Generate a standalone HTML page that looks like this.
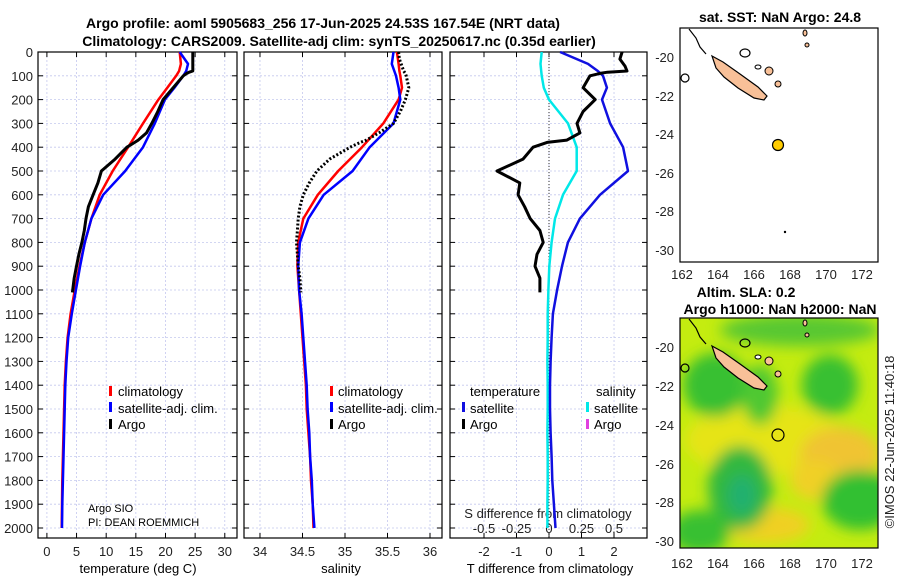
<!DOCTYPE html>
<html><head><meta charset="utf-8">
<style>
html,body{margin:0;padding:0;background:#fff;}
svg{display:block;font-family:"Liberation Sans","DejaVu Sans",sans-serif;}
.tk{font-size:13px;fill:#222;}
.tt{font-size:14px;font-weight:bold;fill:#000;}
.lg{font-size:13px;fill:#000;}
</style></head>
<body>
<svg id="chart" width="900" height="580" viewBox="0 0 900 580" xmlns="http://www.w3.org/2000/svg">
<g id="g"></g>
</svg>
<script>
// ---------- data ----------
const depthTicks=[0,100,200,300,400,500,600,700,800,900,1000,1100,1200,1300,1400,1500,1600,1700,1800,1900,2000];
const tTicks=[0,5,10,15,20,25,30];
const sTicks=[34,34.5,35,35.5,36];
const sTickLabels=["34","34.5","35","35.5","36"];
const dTTicks=[-2,-1,0,1,2];
const dSTicks=[-0.5,-0.25,0,0.25,0.5];
const dSTickLabels=["-0.5","-0.25","0","0.25","0.5"];

const climDepth=[0,50,80,100,150,200,300,400,500,600,700,800,900,1000,1100,1200,1300,1400,1500,1600,1700,1800,1900,2000];
const tClim=[22.4,22.6,22.3,21.8,20.3,18.8,16.2,13.7,11.1,8.9,7.5,6.4,5.5,4.7,4.0,3.5,3.2,3.0,2.9,2.8,2.7,2.6,2.55,2.5];
const tSat=[22.4,23.8,23.5,23.0,21.5,19.9,18.2,16.2,13.2,9.5,7.5,6.4,5.6,4.9,4.2,3.6,3.3,3.1,3.0,2.9,2.8,2.7,2.6,2.55];
const sClim=[35.61,35.63,35.64,35.65,35.67,35.63,35.45,35.2,34.92,34.68,34.51,34.45,34.44,34.46,34.48,34.5,34.52,34.54,34.55,34.57,34.59,34.6,34.62,34.63];
const sSat=[35.57,35.55,35.58,35.6,35.63,35.65,35.57,35.29,35.09,34.75,34.57,34.47,34.45,34.46,34.49,34.51,34.53,34.55,34.56,34.58,34.59,34.61,34.62,34.64];
const dSSat=[-0.056,-0.065,-0.06,-0.056,-0.04,0.0,0.146,0.213,0.213,0.108,0.046,0.02,0.002,-0.005,-0.01,-0.01,-0.012,-0.01,-0.01,-0.012,-0.01,-0.01,-0.012,-0.012];
const dTSat=[0.34,1.2,1.5,1.66,1.78,1.63,1.88,2.28,2.43,1.57,0.95,0.58,0.4,0.25,0.12,0.08,0.05,0.03,0.03,0.05,0.08,0.1,0.15,0.2];

const argoDepth=[0,30,60,80,85,90,100,150,200,250,300,340,370,380,400,450,500,550,600,650,700,750,800,850,900,950,1010];
const tArgo=[24.6,24.6,24.6,24.6,24.0,23.6,23.0,21.3,19.6,18.7,17.7,16.8,15.4,14.8,13.5,11.5,9.2,8.6,7.8,7.0,6.6,6.3,5.9,5.4,5.0,4.6,4.3];
const sArgo=[35.63,35.64,35.67,35.69,35.7,35.71,35.72,35.75,35.71,35.65,35.57,35.4,35.25,35.18,35.06,34.82,34.67,34.58,34.51,34.47,34.45,34.44,34.43,34.44,34.45,34.47,34.48];
const dTArgo=[2.25,2.18,2.34,2.4,1.8,1.57,1.26,1.05,1.42,1.05,0.86,0.95,0.55,-0.06,-0.49,-0.8,-1.6,-0.9,-0.95,-0.75,-0.58,-0.28,-0.18,-0.37,-0.43,-0.28,-0.28];

// ---------- helpers ----------
const NS="http://www.w3.org/2000/svg";
const G=document.getElementById('g');
function mk(tag,attrs,parent){const e=document.createElementNS(NS,tag);for(const k in attrs)e.setAttribute(k,attrs[k]);(parent||G).appendChild(e);return e;}
function txt(x,y,s,cls,anchor,parent){const e=mk('text',{x:x,y:y,'class':cls,'text-anchor':anchor||'middle'},parent);e.textContent=s;return e;}
const yD=d=>52+0.238*d;
const panels=[
 {name:'temperature',x0:38,x1:237,lo:-1.5,hi:32.06},
 {name:'salinity',x0:244,x1:442,lo:33.812,hi:36.141},
 {name:'difference',x0:450,x1:647,lo:-3.046,hi:3.015}
];
function sx(p,v){return p.x0+(v-p.lo)/(p.hi-p.lo)*(p.x1-p.x0);}
const pT=panels[0],pS=panels[1],pD=panels[2];
const xDS=v=>549+130*v;
const PB=538;

function line(p,xs,ys,color,w,dash,name,fx){
  let d='';for(let i=0;i<xs.length;i++){const X=fx?fx(xs[i]):sx(p,xs[i]);d+=(i?'L':'M')+X.toFixed(1)+','+yD(ys[i]).toFixed(1);}
  const e=mk('path',{d:d,fill:'none',stroke:color,'stroke-width':w,'stroke-linejoin':'round'});
  if(dash)e.setAttribute('stroke-dasharray',dash);
  
  
  return e;
}

// ---------- panels: frame, grid, ticks ----------
panels.forEach((p,pi)=>{
  const grp=mk('g',{});
  
  
  depthTicks.forEach(d=>{
    const y=yD(d);
    const gl=mk('line',{x1:p.x0,x2:p.x1,y1:y,y2:y,stroke:'#c4c8ee','stroke-width':0.8,'stroke-dasharray':'2,2'},grp);
    
    
    mk('line',{x1:p.x0,x2:p.x0+5,y1:y,y2:y,stroke:'#000','stroke-width':1},grp);
    mk('line',{x1:p.x1,x2:p.x1-5,y1:y,y2:y,stroke:'#000','stroke-width':1},grp);
    if(pi===0){const t=txt(p.x0-5,y+5,String(d),'tk','end',grp);
      
      }
  });
  let ticks=pi===0?tTicks:pi===1?sTicks:dTTicks;
  let labels=pi===0?tTicks.map(String):pi===1?sTickLabels:dTTicks.map(String);
  ticks.forEach((v,i)=>{
    const x=sx(p,v);
    const gl=mk('line',{x1:x,x2:x,y1:52,y2:PB,stroke:'#c4c8ee','stroke-width':0.8,'stroke-dasharray':'2,2'},grp);
    
    
    mk('line',{x1:x,x2:x,y1:PB,y2:PB-5,stroke:'#000','stroke-width':1},grp);
    mk('line',{x1:x,x2:x,y1:52,y2:57,stroke:'#000','stroke-width':1},grp);
    const t=txt(x,556,labels[i],'tk','middle',grp);
    
    
  });
  const fr=mk('rect',{x:p.x0,y:52,width:p.x1-p.x0,height:PB-52,fill:'none',stroke:'#000','stroke-width':1.2},grp);
  
  
});
dSTicks.forEach((v,i)=>{
  const t=txt(xDS(v),533,dSTickLabels[i],'tk');
  
  
  mk('line',{x1:xDS(v),x2:xDS(v),y1:PB,y2:PB-4,stroke:'#000'});
});
let st=txt(548,518,'S difference from climatology','tk');


mk('line',{x1:549,x2:549,y1:52,y2:PB,stroke:'#333','stroke-width':1,'stroke-dasharray':'1,2'});

// ---------- series ----------
line(pT,tClim,climDepth,'#f00',2.5,null,'temp-climatology-line');
line(pT,tSat,climDepth,'#00f',2.5,null,'temp-satellite-line');
line(pT,tArgo,argoDepth,'#000',3,null,'temp-argo-line');
line(pS,sClim,climDepth,'#f00',2.5,null,'sal-climatology-line');
line(pS,sSat,climDepth,'#00f',2.5,null,'sal-satellite-line');
line(pS,sArgo,argoDepth,'#000',3,'2,2','sal-argo-line');
line(pD,dSSat,climDepth,'#00e8e8',2.5,null,'s-diff-satellite-line',xDS);
line(pD,dTSat,climDepth,'#1010e0',2.5,null,'t-diff-satellite-line');
line(pD,dTArgo,argoDepth,'#000',3,null,'t-diff-argo-line');
</script>

<svg style="position:absolute;left:0;top:0" width="900" height="580" viewBox="0 0 900 580" xmlns="http://www.w3.org/2000/svg" font-family="Liberation Sans, DejaVu Sans, sans-serif">
<text x="323" y="28" text-anchor="middle" font-size="14" font-weight="bold">Argo profile: aoml 5905683_256 17-Jun-2025 24.53S 167.54E (NRT data)</text>
<text x="339" y="46" text-anchor="middle" font-size="14" font-weight="bold">Climatology: CARS2009. Satellite-adj clim: synTS_20250617.nc (0.35d earlier)</text>

<text x="138" y="573" text-anchor="middle" font-size="13">temperature (deg C)</text>
<text x="341" y="573" text-anchor="middle" font-size="13">salinity</text>
<text x="550" y="573" text-anchor="middle" font-size="13">T difference from climatology</text>

<g font-size="13">
<rect x="109" y="386" width="3" height="10" fill="#f00"/><text x="118" y="396">climatology</text>
<rect x="109" y="402" width="3" height="10" fill="#00f"/><text x="118" y="413">satellite-adj. clim.</text>
<rect x="109" y="419" width="3" height="10" fill="#000"/><text x="118" y="429">Argo</text>
</g>
<g font-size="13">
<rect x="330" y="386" width="3" height="10" fill="#f00"/><text x="338" y="396">climatology</text>
<rect x="330" y="402" width="3" height="10" fill="#00f"/><text x="338" y="413">satellite-adj. clim.</text>
<rect x="330" y="419" width="3" height="10" fill="#000"/><text x="338" y="429">Argo</text>
</g>
<g font-size="13">
<text x="470" y="396">temperature</text><text x="596" y="396">salinity</text>
<rect x="462" y="402" width="3" height="10" fill="#1010e0"/><text x="470" y="413">satellite</text>
<rect x="462" y="419" width="3" height="10" fill="#000"/><text x="470" y="429">Argo</text>
<rect x="586" y="402" width="3" height="10" fill="#00e8e8"/><text x="594" y="413">satellite</text>
<rect x="586" y="419" width="3" height="10" fill="#e040e0"/><text x="594" y="429">Argo</text>
</g>
<text x="88" y="512" font-size="11">Argo SIO</text>
<text x="88" y="526" font-size="11">PI: DEAN ROEMMICH</text>

<text x="780" y="22" text-anchor="middle" font-size="14" font-weight="bold">sat. SST: NaN Argo: 24.8</text>
<g>
<rect x="680" y="28" width="198" height="234" fill="#fff" stroke="#000" stroke-width="1.2"/>
<path d="M689,29 L696,38 L700,47 L706,54" fill="none" stroke="#000" stroke-width="1.2"/>
<path d="M712,56 L723,62 L740,74 L758,87 L767,96 L764,100 L754,98 L738,88 L724,77 L716,68 Z" fill="#f8c098" stroke="#000" stroke-width="1.2"/>
<ellipse cx="685" cy="78" rx="4" ry="4" fill="none" stroke="#000" stroke-width="1.2"/>
<ellipse cx="745" cy="53" rx="5" ry="4" fill="none" stroke="#000" stroke-width="1.2"/>
<ellipse cx="769" cy="71" rx="4" ry="4" fill="#f8c098" stroke="#000"/>
<ellipse cx="778" cy="84" rx="3" ry="3" fill="#f8c098" stroke="#000"/>
<ellipse cx="758" cy="67" rx="3" ry="2" fill="none" stroke="#000"/>
<ellipse cx="805" cy="33" rx="2" ry="3" fill="#f8c098" stroke="#000"/>
<ellipse cx="807" cy="45" rx="2" ry="2" fill="#f8c098" stroke="#000"/>
<circle cx="778" cy="145" r="5.5" fill="#ffcc00" stroke="#000" stroke-width="1.2"/>
<circle cx="785" cy="232" r="1.2" fill="#000"/>
</g>
<g font-size="13" fill="#222">
<text x="674" y="62" text-anchor="end">-20</text><text x="674" y="101" text-anchor="end">-22</text><text x="674" y="139" text-anchor="end">-24</text><text x="674" y="178" text-anchor="end">-26</text><text x="674" y="216" text-anchor="end">-28</text><text x="674" y="255" text-anchor="end">-30</text>
<text x="682" y="279" text-anchor="middle">162</text><text x="718" y="279" text-anchor="middle">164</text><text x="754" y="279" text-anchor="middle">166</text><text x="790" y="279" text-anchor="middle">168</text><text x="826" y="279" text-anchor="middle">170</text><text x="862" y="279" text-anchor="middle">172</text>
</g>

<text x="746" y="297" text-anchor="middle" font-size="14" font-weight="bold">Altim. SLA: 0.2</text>
<text x="780" y="314" text-anchor="middle" font-size="14" font-weight="bold">Argo h1000: NaN h2000: NaN</text>
<defs>
<filter id="bl" x="-50%" y="-50%" width="200%" height="200%"><feGaussianBlur stdDeviation="7"/></filter>
<clipPath id="cp"><rect x="680" y="318" width="198" height="230"/></clipPath>
</defs>
<g clip-path="url(#cp)">
<rect x="680" y="318" width="198" height="230" fill="#c4ec10"/>
<g filter="url(#bl)">
<ellipse cx="765" cy="440" rx="80" ry="35" fill="#e6e418"/>
<ellipse cx="840" cy="455" rx="40" ry="28" fill="#f0c430"/>
<ellipse cx="765" cy="525" rx="45" ry="18" fill="#f0d020"/>
<ellipse cx="815" cy="480" rx="25" ry="20" fill="#f0d028"/>
<ellipse cx="715" cy="385" rx="32" ry="32" fill="#38c030"/>
<ellipse cx="760" cy="395" rx="18" ry="30" fill="#50c830"/>
<ellipse cx="830" cy="385" rx="28" ry="30" fill="#38c030"/>
<ellipse cx="800" cy="330" rx="80" ry="16" fill="#58c830"/>
<ellipse cx="740" cy="488" rx="32" ry="42" fill="#30b840"/>
<ellipse cx="742" cy="495" rx="14" ry="20" fill="#20b070"/>
<ellipse cx="700" cy="532" rx="30" ry="22" fill="#38c030"/>
<ellipse cx="860" cy="500" rx="38" ry="30" fill="#30c030"/>
</g>
<path d="M689,319 L696,328 L700,337 L706,344" fill="none" stroke="#000" stroke-width="1.2"/>
<path d="M712,346 L723,352 L740,364 L758,377 L767,386 L764,390 L754,388 L738,378 L724,367 L716,358 Z" fill="#f8c098" stroke="#000" stroke-width="1.2"/>
<ellipse cx="685" cy="368" rx="4" ry="4" fill="none" stroke="#000" stroke-width="1.2"/>
<ellipse cx="745" cy="343" rx="5" ry="4" fill="none" stroke="#000" stroke-width="1.2"/>
<ellipse cx="769" cy="361" rx="4" ry="4" fill="#f8c098" stroke="#000"/>
<ellipse cx="778" cy="374" rx="3" ry="3" fill="#f8c098" stroke="#000"/>
<ellipse cx="758" cy="357" rx="3" ry="2" fill="#fff" stroke="#000"/>
<ellipse cx="805" cy="323" rx="2" ry="3" fill="#f8c098" stroke="#000"/>
<ellipse cx="807" cy="335" rx="2" ry="2" fill="#f8c098" stroke="#000"/>
<circle cx="778" cy="435" r="6" fill="none" stroke="#000" stroke-width="1.2"/>
</g>
<rect x="680" y="318" width="198" height="230" fill="none" stroke="#000" stroke-width="1.2"/>
<g font-size="13" fill="#222">
<text x="674" y="352" text-anchor="end">-20</text><text x="674" y="391" text-anchor="end">-22</text><text x="674" y="430" text-anchor="end">-24</text><text x="674" y="469" text-anchor="end">-26</text><text x="674" y="507" text-anchor="end">-28</text><text x="674" y="546" text-anchor="end">-30</text>
<text x="682" y="568" text-anchor="middle">162</text><text x="718" y="568" text-anchor="middle">164</text><text x="754" y="568" text-anchor="middle">166</text><text x="790" y="568" text-anchor="middle">168</text><text x="826" y="568" text-anchor="middle">170</text><text x="862" y="568" text-anchor="middle">172</text>
</g>
<text x="0" y="0" transform="translate(894,442) rotate(-90)" text-anchor="middle" font-size="13" fill="#222">©IMOS 22-Jun-2025 11:40:18</text>
</svg>
<style>body{position:relative;width:900px;height:580px;overflow:hidden;}</style>
</body></html>
